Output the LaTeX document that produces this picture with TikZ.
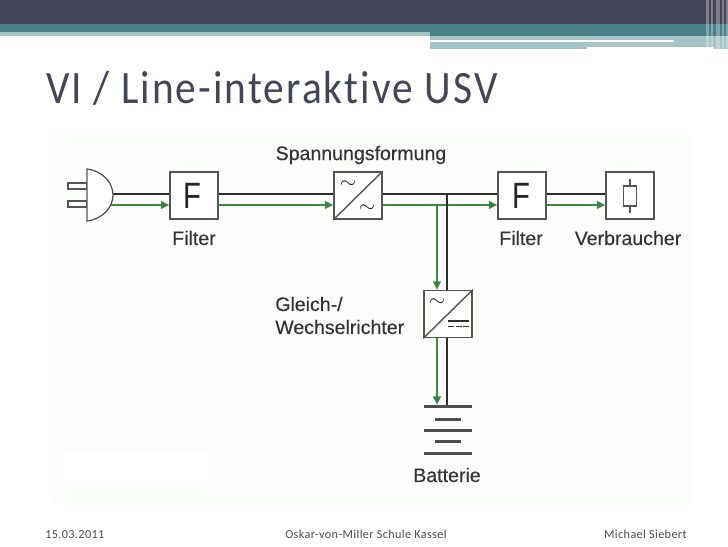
\documentclass[tikz,border=0pt]{standalone}
\usepackage{fontspec}
\setmainfont{Liberation Sans}
\newfontfamily\titelfont[LetterSpace=5,Ligatures={NoCommon,NoRequired,NoContextual}]{Carlito}
\newfontfamily\fussfont[LetterSpace=3,Ligatures={NoCommon,NoRequired,NoContextual}]{Carlito}
\newfontfamily\etikettfont[FakeBold=0.25]{Liberation Sans}
\usetikzlibrary{arrows.meta, positioning, calc}
\definecolor{dunkel}{HTML}{454559}
\definecolor{teal1}{HTML}{4A8087}
\definecolor{teal2}{HTML}{A5C4C6}
\definecolor{gruen}{HTML}{3C8A42}
\definecolor{linie}{HTML}{2E2E2E}
\definecolor{rahmen}{HTML}{555555}
\definecolor{bildgrund}{HTML}{FBFEFB}
\begin{document}
\begin{tikzpicture}[
  x=0.025cm, y=-0.025cm,
  font=\normalsize,
  leitung/.style={draw=linie, line width=1.4pt},
  gruenlinie/.style={draw=gruen, line width=1.4pt},
  pfeil/.style={gruenlinie, -{Triangle[length=6pt,width=5.5pt,fill=gruen!70!black]}},
  kasten/.style={draw=rahmen, line width=1pt, fill=white, inner sep=0pt,
              minimum width=1.2cm, minimum height=1.18cm},
  etikett/.style={font=\etikettfont\fontsize{13.9}{16}\selectfont, text=black!80, inner sep=0pt},
  fuss/.style={font=\fussfont\fontsize{8.7}{10}\selectfont, text=black!70, inner sep=0pt},
  platte/.style={fill=linie!85!white, inner sep=0pt, minimum height=1.9pt},
  buchstabe/.style={inner sep=0pt, font=\fontsize{26}{26}\selectfont, text=black!85},
  wechsel/.style={inner sep=0pt, text=black!85}
]
\useasboundingbox (0,0) rectangle (728,546);

% ---- kopfband der folie
\fill[dunkel] (0,0) rectangle (728,24);
\fill[teal1] (0,24) rectangle (728,36);
\fill[teal2] (0,32) rectangle (430,36);
\fill[teal2] (430,36) rectangle (714,47);
\fill[teal2] (587,47) rectangle (430,49);
\fill[white] (430,40) rectangle (674,42);
\fill[teal2] (714,36) rectangle (728,49);
\foreach \x/\w in {706/3, 711/2, 716/4, 722/2, 726/2} {
  \fill[white, opacity=0.3] (\x,0) rectangle (\x+\w,49);
}

% ---- titel
\node[inner sep=0pt, anchor=west, text=dunkel, font=\titelfont\fontsize{33}{36}\selectfont]
     (titel) at (46,88) {\scalebox{0.892}[1]{VI / Line-interaktive USV}};

% ---- bildhintergrund
\fill[bildgrund] (52,135) rectangle (692,503);
\fill[white] (60,452) rectangle (215,485);

% ---- kaesten
\node[kasten] (filtera) at (194,195.5) {};
\node[kasten] (wandlera) at (358,195.5) {};
\node[kasten] (filterb) at (522,195.5) {};
\node[kasten] (last) at (630,195.5) {};
\node[kasten] (wandlerb) at (448,314) {};
\coordinate (stecker) at (110,195.5);
\coordinate (abzweiga) at (447,194);
\coordinate (abzweigb) at (437,205);

% ---- leitungen: oben schwarz, darunter gruen
\foreach \a/\b in {stecker/filtera, filtera/wandlera, wandlera/filterb, filterb/last} {
  \draw[leitung] ([yshift=0.0375cm]\a.east) -- ([yshift=0.0375cm]\b.west);
  \draw[pfeil] ([yshift=-0.2375cm]\a.east) -- ([yshift=-0.2375cm]\b.west);
}

% ---- stecker
\draw[rahmen, line width=0.9pt, fill=white] (87,183) rectangle (68,189);
\draw[rahmen, line width=0.9pt, fill=white] (87,201) rectangle (68,207);
\draw[rahmen, line width=0.9pt, fill=white] (87,169)
  .. controls (103,171) and (113,183) .. (113,195)
  .. controls (113,207) and (103,219) .. (87,221) -- cycle;

% ---- abzweig zur batterie
\draw[pfeil] (abzweigb) -- (abzweigb |- wandlerb.north);
\draw[leitung] (abzweiga) -- (abzweiga |- wandlerb.north);

% ---- batterie
\node[platte, minimum width=1.2cm] (plattea) at (448,406.5) {};
\node[platte, minimum width=0.65cm] (platteb) at (448,419.5) {};
\node[platte, minimum width=1.2cm] (plattec) at (448,430.5) {};
\node[platte, minimum width=0.65cm] (platted) at (448,441.5) {};
\node[platte, minimum width=1.2cm] (plattee) at (448,453.5) {};
\draw[pfeil] (abzweigb |- wandlerb.south) -- (abzweigb |- plattea.north);
\draw[leitung] (abzweiga |- wandlerb.south) -- (abzweiga |- plattea.north);

% ---- symbole in den kaesten
\node[buchstabe] (fa) at (192,196) {\scalebox{0.8}[1]{F}};
\node[buchstabe] (fb) at (521,196) {\scalebox{0.8}[1]{F}};
\foreach \k in {wandlera, wandlerb} {
  \draw[rahmen, line width=1pt] (\k.south west) -- (\k.north east);
}
\node[wechsel] (wechsela) at (348,185) {\scalebox{1.5}{$\sim$}};
\node[wechsel] (wechselb) at (367,209) {\scalebox{1.5}{$\sim$}};
\node[wechsel] (wechselc) at (437,303) {\scalebox{1.5}{$\sim$}};
\draw[linie, line width=1.2pt] (448,321) -- (469,321);
\draw[linie, line width=1.2pt, dash pattern=on 4.2pt off 1.3pt] (448,326.5) -- (469,326.5);

% ---- verbraucher
\draw[rahmen, line width=0.8pt] (630,179) -- (630,213);
\node[draw=rahmen, line width=0.8pt, fill=white, inner sep=0pt,
      minimum width=0.33cm, minimum height=0.5cm] (widerstand) at (630,196) {};

% ---- beschriftung
\node[etikett] (spannung) at (361,155) {Spannungsformung};
\node[etikett] (filtertexta) at (194,238) {Filter};
\node[etikett] (filtertextb) at (521,238) {Filter};
\node[etikett] (lasttext) at (628,238) {Verbraucher};
\node[etikett, anchor=west] (gleich) at (275,304) {Gleich-/};
\node[etikett, anchor=west] (wechseltext) at (275,327) {Wechselrichter};
\node[etikett] (batterie) at (447,475) {Batterie};

% ---- fusszeile
\node[fuss, anchor=base west] (datum) at (45,538) {15.03.2011};
\node[fuss, anchor=base west] (schule) at (285,538) {Oskar-von-Miller Schule Kassel};
\node[fuss, anchor=base east] (autor) at (687,538) {Michael Siebert};

\end{tikzpicture}
\end{document}
